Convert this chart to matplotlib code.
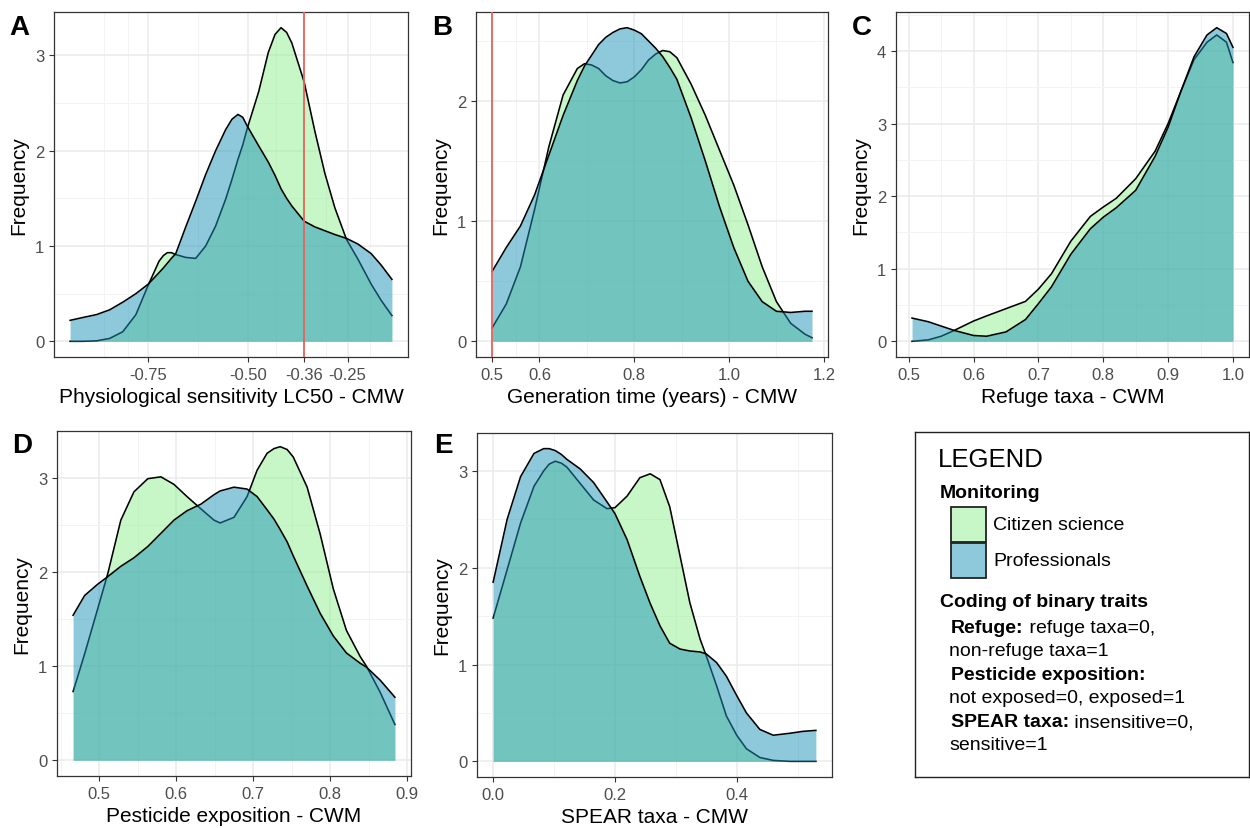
import numpy as np
import matplotlib
matplotlib.use("Agg")
import matplotlib.pyplot as plt
from matplotlib.patches import Rectangle

plt.rcParams["font.family"] = ["Liberation Sans", "DejaVu Sans"]

W, H = 1250, 829

# colours
GREEN = "#90EE90"
BLUE = "#1f93b9"
VLINE = "#e8625c"

# ---- data (density curves) ----
# A: physiological sensitivity
A_x = [-0.946, -0.914, -0.880, -0.847, -0.814, -0.781, -0.750, -0.723, -0.712, -0.702,
       -0.692, -0.681, -0.656, -0.631, -0.606, -0.581, -0.556, -0.540, -0.525, -0.513,
       -0.502, -0.473, -0.449, -0.432, -0.417, -0.403, -0.390, -0.359, -0.332, -0.307,
       -0.282, -0.253, -0.224, -0.191, -0.166, -0.139]
A_cs = [0.0, 0.0, 0.005, 0.03, 0.1, 0.28, 0.59, 0.84, 0.9, 0.93,
        0.93, 0.91, 0.88, 0.87, 1.0, 1.21, 1.49, 1.7, 1.91, 2.06,
        2.23, 2.62, 3.03, 3.22, 3.29, 3.24, 3.13, 2.72, 2.2, 1.76,
        1.4, 1.07, 0.86, 0.6, 0.43, 0.27]
A_pro = [0.22, 0.25, 0.28, 0.33, 0.41, 0.5, 0.6, 0.72, 0.77, 0.82,
         0.87, 0.92, 1.2, 1.47, 1.75, 2.0, 2.22, 2.33, 2.38, 2.35,
         2.26, 2.05, 1.88, 1.74, 1.6, 1.5, 1.42, 1.26, 1.2, 1.16,
         1.12, 1.08, 1.02, 0.92, 0.8, 0.65]
A_ticks = [-0.75, -0.50, -0.36, -0.25]
A_ticklabels = ["-0.75", "-0.50", "-0.36", "-0.25"]
A_vline = -0.36

# B: generation time
B_x = [0.50, 0.53, 0.56, 0.59, 0.62, 0.65, 0.68, 0.695, 0.71, 0.725, 0.74, 0.755,
       0.77, 0.785, 0.80, 0.815, 0.83, 0.845, 0.86, 0.875, 0.89, 0.92, 0.95, 0.98,
       1.01, 1.04, 1.07, 1.10, 1.13, 1.16, 1.175]
B_cs = [0.11, 0.31, 0.62, 1.1, 1.62, 2.05, 2.27, 2.31, 2.3, 2.27, 2.21, 2.17,
        2.15, 2.16, 2.2, 2.26, 2.34, 2.39, 2.42, 2.41, 2.36, 2.14, 1.88, 1.59,
        1.3, 0.97, 0.62, 0.33, 0.15, 0.06, 0.03]
B_pro = [0.58, 0.78, 0.96, 1.22, 1.55, 1.88, 2.17, 2.29, 2.38, 2.47, 2.53, 2.57,
         2.6, 2.61, 2.59, 2.56, 2.5, 2.44, 2.37, 2.28, 2.18, 1.86, 1.5, 1.12,
         0.78, 0.5, 0.33, 0.25, 0.24, 0.25, 0.25]
B_ticks = [0.5, 0.6, 0.8, 1.0, 1.2]
B_ticklabels = ["0.5", "0.6", "0.8", "1.0", "1.2"]
B_vline = 0.5

# C: refuge taxa
C_x = [0.505, 0.53, 0.55, 0.57, 0.60, 0.62, 0.65, 0.68, 0.70, 0.72, 0.75, 0.78,
       0.80, 0.82, 0.85, 0.88, 0.90, 0.92, 0.94, 0.96, 0.975, 0.99, 1.0]
C_cs = [0.0, 0.02, 0.07, 0.15, 0.28, 0.35, 0.45, 0.55, 0.72, 0.93, 1.38, 1.72,
        1.85, 1.97, 2.24, 2.62, 3.0, 3.45, 3.88, 4.12, 4.22, 4.12, 3.84]
C_pro = [0.32, 0.27, 0.21, 0.15, 0.08, 0.07, 0.13, 0.3, 0.52, 0.75, 1.2, 1.55,
         1.71, 1.84, 2.08, 2.55, 2.95, 3.45, 3.92, 4.22, 4.32, 4.24, 4.05]
C_ticks = [0.5, 0.6, 0.7, 0.8, 0.9, 1.0]
C_ticklabels = ["0.5", "0.6", "0.7", "0.8", "0.9", "1.0"]

# D: pesticide exposition
D_x = [0.466, 0.481, 0.498, 0.511, 0.528, 0.545, 0.563, 0.580, 0.597, 0.614, 0.632,
       0.649, 0.657, 0.675, 0.692, 0.705, 0.718, 0.727, 0.735, 0.744, 0.752, 0.770,
       0.787, 0.804, 0.821, 0.839, 0.847, 0.865, 0.884]
D_cs = [0.73, 1.13, 1.61, 1.98, 2.55, 2.85, 2.99, 3.01, 2.93, 2.8, 2.67,
        2.55, 2.52, 2.58, 2.8, 3.08, 3.26, 3.31, 3.33, 3.3, 3.22, 2.9,
        2.4, 1.82, 1.38, 1.1, 1.0, 0.72, 0.38]
D_pro = [1.54, 1.75, 1.87, 1.95, 2.06, 2.15, 2.27, 2.41, 2.55, 2.65, 2.72,
         2.82, 2.86, 2.9, 2.88, 2.8, 2.66, 2.56, 2.45, 2.32, 2.17, 1.85,
         1.56, 1.32, 1.14, 1.03, 0.99, 0.85, 0.67]
D_ticks = [0.5, 0.6, 0.7, 0.8, 0.9]
D_ticklabels = ["0.5", "0.6", "0.7", "0.8", "0.9"]

# E: SPEAR taxa
E_x = [0.0, 0.023, 0.045, 0.067, 0.083, 0.092, 0.102, 0.112, 0.121, 0.143, 0.165,
       0.187, 0.2, 0.22, 0.241, 0.258, 0.274, 0.29, 0.307, 0.323, 0.34, 0.35, 0.367,
       0.383, 0.4, 0.416, 0.438, 0.46, 0.487, 0.509, 0.53]
E_cs = [1.48, 1.98, 2.46, 2.84, 3.0, 3.07, 3.1, 3.08, 3.04, 2.87, 2.7,
        2.61, 2.62, 2.74, 2.93, 2.97, 2.91, 2.63, 2.12, 1.64, 1.26, 1.09, 0.78,
        0.47, 0.27, 0.13, 0.04, 0.01, 0.0, 0.0, 0.0]
E_pro = [1.85, 2.5, 2.94, 3.18, 3.23, 3.23, 3.21, 3.17, 3.12, 3.02, 2.88,
         2.68, 2.56, 2.29, 1.91, 1.63, 1.4, 1.22, 1.16, 1.14, 1.13, 1.11, 1.02,
         0.88, 0.68, 0.5, 0.33, 0.27, 0.29, 0.31, 0.32]
E_ticks = [0.0, 0.2, 0.4]
E_ticklabels = ["0.0", "0.2", "0.4"]

groups = ["Citizen science", "Professionals"]


def px_rect(l, t, r, b):
    return [l / W, 1 - b / H, (r - l) / W, (b - t) / H]


def midpoints(vals):
    return [(a + b) / 2 for a, b in zip(vals[:-1], vals[1:])]


fig = plt.figure(figsize=(W / 100, H / 100), dpi=100)


def panel(rect, letter, letter_xy, x, cs, pro, xlabel, xticks, xticklabels,
          xminor, vline=None):
    ax = fig.add_axes(px_rect(*rect))
    x = np.asarray(x)
    cs = np.asarray(cs)
    pro = np.asarray(pro)

    ax.fill_between(x, 0, cs, color=GREEN, alpha=0.5, lw=0, zorder=2)
    ax.plot(x, cs, color="black", lw=1.15, zorder=3, solid_joinstyle="round")
    ax.fill_between(x, 0, pro, color=BLUE, alpha=0.5, lw=0, zorder=4)
    ax.plot(x, pro, color="black", lw=1.15, zorder=5, solid_joinstyle="round")
    if vline is not None:
        ax.axvline(vline, color=VLINE, lw=1.3, zorder=6)

    # ggplot style 5% expansion
    xr = x.max() - x.min()
    ax.set_xlim(x.min() - 0.05 * xr, x.max() + 0.05 * xr)
    ymax = max(cs.max(), pro.max())
    ax.set_ylim(-0.05 * ymax, ymax * 1.05)

    yt = list(range(0, int(np.floor(ymax)) + 1))
    ax.set_yticks(yt)
    ax.set_yticklabels([str(v) for v in yt])
    ymin = [v + 0.5 for v in yt if v + 0.5 < ymax * 1.05]
    ax.set_yticks(ymin, minor=True)
    ax.set_xticks(xticks)
    ax.set_xticklabels(xticklabels)
    ax.set_xticks(xminor, minor=True)

    ax.grid(which="major", color="#ebebeb", lw=1.1)
    ax.grid(which="minor", color="#f3f3f3", lw=0.7)
    ax.set_axisbelow(True)
    for s in ax.spines.values():
        s.set_color("#333333")
        s.set_linewidth(0.9)
    ax.tick_params(which="major", length=3.5, width=0.8, color="#333333",
                   labelcolor="#4d4d4d", labelsize=12, pad=3.5)
    ax.tick_params(which="minor", length=0)
    ax.set_xlabel(xlabel, fontsize=15, labelpad=4)
    ax.set_ylabel("Frequency", fontsize=15, labelpad=5)

    fig.text(letter_xy[0] / W, 1 - letter_xy[1] / H, letter, fontsize=20,
             fontweight="bold", va="baseline", ha="left")
    return ax


panel((54, 13, 408, 358), "A", (9, 35), A_x, A_cs, A_pro,
      "Physiological sensitivity LC50 - CMW", A_ticks, A_ticklabels,
      [-0.86, -0.80, -0.625, -0.43, -0.305, -0.195], vline=A_vline)
panel((476, 13, 828, 358), "B", (432, 35), B_x, B_cs, B_pro,
      "Generation time (years) - CMW", B_ticks, B_ticklabels,
      [0.55, 0.7, 0.9, 1.1], vline=B_vline)
panel((896, 13, 1249, 358), "C", (852, 35), C_x, C_cs, C_pro,
      "Refuge taxa - CWM", C_ticks, C_ticklabels, midpoints(C_ticks))
panel((57, 432, 411, 777), "D", (12, 453), D_x, D_cs, D_pro,
      "Pesticide exposition - CWM", D_ticks, D_ticklabels,
      [0.45] + midpoints(D_ticks))
panel((477, 434, 832, 778), "E", (434, 453), E_x, E_cs, E_pro,
      "SPEAR taxa - CMW", E_ticks, E_ticklabels, [0.1, 0.3, 0.5])

# ---- legend box ----
lg = fig.add_axes(px_rect(915, 433, 1249, 778))
lg.set_xlim(915, 1249)
lg.set_ylim(778, 433)
lg.set_xticks([])
lg.set_yticks([])
for s in lg.spines.values():
    s.set_color("#222222")
    s.set_linewidth(1.0)

lg.text(938, 460, "LEGEND", fontsize=18.5, va="center", ha="left")
lg.text(940, 494, "Monitoring", fontsize=14, fontweight="bold", va="center")
for i, (name, col) in enumerate(zip(groups, [GREEN, BLUE])):
    y0 = 508 + i * 36
    lg.add_patch(Rectangle((951, y0), 35, 35, facecolor=col, alpha=0.5, lw=0))
    lg.add_patch(Rectangle((951, y0), 35, 35, facecolor="none",
                           edgecolor="#222222", lw=1.3))
    lg.text(993, y0 + 18, name, fontsize=14, va="center")

lg.text(940, 603, "Coding of binary traits", fontsize=14, fontweight="bold",
        va="center")

coding = [
    ("Refuge:", " refuge taxa=0,", "non-refuge taxa=1", 629),
    ("Pesticide exposition:", "", "not exposed=0, exposed=1", 676),
    ("SPEAR taxa:", " insensitive=0,", "sensitive=1", 723),
]
for bold, rest, line2, yy in coding:
    t = lg.text(951, yy, bold, fontsize=14, fontweight="bold", va="center")
    if rest:
        lg.annotate(rest, xy=(1, 0), xycoords=t, fontsize=14,
                    va="bottom", ha="left")
    lg.text(949, yy + 23, line2, fontsize=14, va="center")

fig.savefig("out.png", dpi=100)
